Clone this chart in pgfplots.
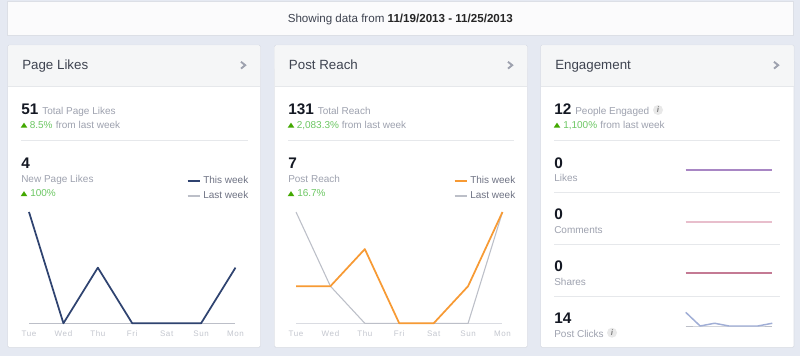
\documentclass[border=0pt]{standalone}
\usepackage{pgfplots}
\pgfplotsset{compat=1.18}
\usepackage{fontspec}
\setmainfont{Liberation Sans}
\newfontfamily\tickfont[LetterSpace=8]{Liberation Sans}
\definecolor{bg}{HTML}{E5E9F2}
\definecolor{head}{HTML}{F5F6F7}
\definecolor{rule}{HTML}{E6E8EB}
\definecolor{border}{HTML}{DCDFE6}
\definecolor{dark}{HTML}{141823}
\definecolor{titlec}{HTML}{3E4350}
\definecolor{greyt}{HTML}{9EA2AF}
\definecolor{legt}{HTML}{6F7384}
\definecolor{greent}{HTML}{6CC763}
\definecolor{greentri}{HTML}{42A800}
\definecolor{navy}{HTML}{2F4370}
\definecolor{orange}{HTML}{F79A34}
\definecolor{lastw}{HTML}{BCBFC8}
\definecolor{base}{HTML}{DADCE2}
\definecolor{ticks}{HTML}{C4C7CF}
\definecolor{likesc}{HTML}{A886C4}
\definecolor{commc}{HTML}{E8BECC}
\definecolor{sharec}{HTML}{C47A94}
\definecolor{clickc}{HTML}{A0AED6}
\newcommand{\T}[6][base west]{\node[anchor=#1,inner sep=0pt,text=#5,font=\fontsize{#4}{#4}\selectfont] at (#2,#3) {#6};}
\newcommand{\card}[4]{% x0 x1 title chevronx
  \fill[border,rounded corners=1.2pt] (#1-0.7,44.8) rectangle (#2+0.7,347.8);
  \fill[white,rounded corners=1pt] (#1,45.5) rectangle (#2,347);
  \fill[head,rounded corners=1pt] (#1,45.5) rectangle (#2,70);
  \fill[head] (#1,60) rectangle (#2,86);
  \fill[rule] (#1,86) rectangle (#2,87);
  \T{#1+14}{70}{10}{titlec}{#3}
  \draw[line width=1.4pt,color=greyt] (#4,61.8) -- (#4+4.2,65.2) -- (#4,68.6);
}
\newcommand{\tri}[2]{\fill[greentri] (#1-0.3,#2+0.2) -- (#1+3,#2-4.8) -- (#1+6.3,#2+0.2) -- cycle;}
\newcommand{\info}[2]{\fill[black!9] (#1,#2) circle (5); \T[center]{#1}{#2}{6}{black!50}{\itshape\bfseries i}}
\newcommand{\hr}[3]{\fill[rule] (#1,#3-0.5) rectangle (#2,#3+0.5);}
\pgfplotsset{
  trend/.style={
    scale only axis, clip=false,
    width=206.5*0.75pt, height=111.3*0.75pt,
    anchor=south west,
    xmin=0, xmax=6, ymin=0,
    axis y line=none, axis x line=bottom,
    x axis line style={draw=base,line width=0.7pt,-},
    xtick={0,1,2,3,4,5,6},
    xticklabels={Tue,Wed,Thu,Fri,Sat,Sun,Mon},
    major tick length=0pt,
    xticklabel style={font=\tickfont\fontsize{6}{6}\selectfont,text=ticks,inner sep=0pt,yshift=-5.4pt,text height=4.4pt,text depth=0pt},
    legend cell align=left,
    legend style={draw=none,fill=none,inner sep=0pt,outer sep=0pt,
      font=\fontsize{7.5}{7.5}\selectfont,text=legt,
      row sep=0.2pt, /tikz/every even column/.append style={column sep=2.2pt}},
    legend image code/.code={\draw[#1,line width=1.5pt] (0,0) -- (9pt,0pt);},
  },
  spark/.style={
    scale only axis, clip=false, hide axis,
    width=86.6*0.75pt, height=13.7*0.75pt,
    anchor=south west,
    xmin=0, xmax=6, ymin=0,
  },
}
\begin{document}
\begin{tikzpicture}[x=0.75pt,y=-0.75pt]
\path[use as bounding box] (0,0) rectangle (800,356);
\fill[bg] (0,0) rectangle (800,356);
% banner
\fill[border] (7.3,1.3) rectangle (793.7,35.7);
\fill[head!40!white] (8,2) rectangle (793,35);
\T{287.5}{22.5}{8.7}{titlec}{Showing data from \textbf{\textcolor{black!85}{11/19/2013 - 11/25/2013}}}
% cards
\card{8}{260}{Page Likes}{241}
\card{274.7}{527}{Post Reach}{508}
\card{541}{793.7}{Engagement}{774}
% Page Likes
\T{21}{115}{11.5}{dark}{\textbf{51}}
\T{42}{114.5}{7.5}{greyt}{Total Page Likes}
\tri{21}{127.5}
\T{29.5}{128.5}{7.5}{greent}{8.5\%}
\T{55.5}{128.5}{7.5}{greyt}{from last week}
\hr{21}{248}{140.5}
\T{21}{168.5}{11.5}{dark}{\textbf{4}}
\T{21}{183}{7.5}{greyt}{New Page Likes}
\tri{21}{196}
\T{30}{197}{7.5}{greent}{100\%}
% Post Reach
\T{288}{115}{11.5}{dark}{\textbf{131}}
\T{317.5}{114.5}{7.5}{greyt}{Total Reach}
\tri{288}{127.5}
\T{296.5}{128.5}{7.5}{greent}{2,083.3\%}
\T{341.5}{128.5}{7.5}{greyt}{from last week}
\hr{287.5}{514}{140.5}
\T{288}{168.5}{11.5}{dark}{\textbf{7}}
\T{288}{183}{7.5}{greyt}{Post Reach}
\tri{288}{196}
\T{297}{197}{7.5}{greent}{16.7\%}
% Engagement
\T{554}{115}{11.5}{dark}{\textbf{12}}
\T{575}{114.5}{7.5}{greyt}{People Engaged}
\info{658}{110}
\tri{554}{127.5}
\T{563}{128.5}{7.5}{greent}{1,100\%}
\T{600}{128.5}{7.5}{greyt}{from last week}
\hr{554}{780}{140.5}
\T{554}{168.5}{11.5}{dark}{\textbf{0}}
\T{554}{181.5}{7.5}{greyt}{Likes}
\hr{554}{780}{192.7}
\T{554}{219.8}{11.5}{dark}{\textbf{0}}
\T{554}{233.3}{7.5}{greyt}{Comments}
\hr{554}{780}{244.7}
\T{554}{271.5}{11.5}{dark}{\textbf{0}}
\T{554}{285}{7.5}{greyt}{Shares}
\hr{554}{780}{296.7}
\T{554}{323.5}{11.5}{dark}{\textbf{14}}
\T{554}{337}{7.5}{greyt}{Post Clicks}
\info{612}{332.7}
% charts
\begin{axis}[trend, at={(29*0.75pt,-323.3*0.75pt)}, ymax=2,
  legend style={at={(rel axis cs:1.075,1.345)},anchor=north east}]
\addplot[lastw,line width=0.7pt,forget plot] coordinates {(0,0)(1,0)(2,0)(3,0)(4,0)(5,0)(6,0)};
\addplot[navy,line width=1.3pt,line join=round] coordinates {(0,2)(1,0)(2,1)(3,0)(4,0)(5,0)(6,1)};
\addlegendentry{This week}
\addlegendimage{lastw}
\addlegendentry{Last week}
\end{axis}
\begin{axis}[trend, at={(296*0.75pt,-323.3*0.75pt)}, ymax=3,
  legend style={at={(rel axis cs:1.075,1.345)},anchor=north east}]
\addplot[lastw,line width=0.8pt,forget plot] coordinates {(0,3)(1,1)(2,0)(3,0)(4,0)(5,0)(6,3)};
\addplot[orange,line width=1.3pt,line join=round] coordinates {(0,1)(1,1)(2,2)(3,0)(4,0)(5,1)(6,3)};
\addlegendentry{This week}
\addlegendimage{lastw}
\addlegendentry{Last week}
\end{axis}
\begin{axis}[spark, at={(685.7*0.75pt,-170*0.75pt)}, ymax=1]
\addplot[likesc,line width=1.1pt] coordinates {(0,0)(1,0)(2,0)(3,0)(4,0)(5,0)(6,0)};
\end{axis}
\begin{axis}[spark, at={(685.7*0.75pt,-222*0.75pt)}, ymax=1]
\addplot[commc,line width=1.1pt] coordinates {(0,0)(1,0)(2,0)(3,0)(4,0)(5,0)(6,0)};
\end{axis}
\begin{axis}[spark, at={(685.7*0.75pt,-273*0.75pt)}, ymax=1]
\addplot[sharec,line width=1.1pt] coordinates {(0,0)(1,0)(2,0)(3,0)(4,0)(5,0)(6,0)};
\end{axis}
\begin{axis}[spark, at={(685.7*0.75pt,-326*0.75pt)}, ymax=10]
\addplot[lastw,line width=0.7pt] coordinates {(0,0)(1,0)(2,0)(3,0)(4,0)(5,0)(6,0)};
\addplot[clickc,line width=1.1pt,line join=round] coordinates {(0,10)(1,0)(2,2)(3,0)(4,0)(5,0)(6,2)};
\end{axis}
\end{tikzpicture}
\end{document}
